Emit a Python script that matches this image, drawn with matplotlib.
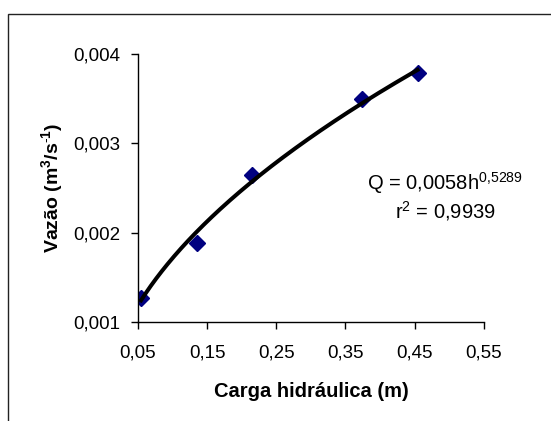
import numpy as np
import matplotlib.pyplot as plt
from matplotlib.patches import Rectangle

plt.rcParams['font.family'] = ['Liberation Sans', 'DejaVu Sans']
plt.rcParams['mathtext.fontset'] = 'custom'
plt.rcParams['mathtext.rm'] = 'Liberation Sans'
plt.rcParams['mathtext.it'] = 'Liberation Sans'
plt.rcParams['mathtext.bf'] = 'Liberation Sans:bold'

# measured points
carga = [0.0543, 0.1348, 0.2143, 0.3733, 0.4542]
vazao = [0.001272, 0.001888, 0.002646, 0.003493, 0.003784]

# power trend line Q = a * h^b (from the chart label)
coef_a = 0.0058
coef_b = 0.5289
r2 = 0.9939

x_ticks = [0.05, 0.15, 0.25, 0.35, 0.45, 0.55]
x_ticklabels = ['0,05', '0,15', '0,25', '0,35', '0,45', '0,55']
y_ticks = [0.001, 0.002, 0.003, 0.004]
y_ticklabels = ['0,001', '0,002', '0,003', '0,004']

fig = plt.figure(figsize=(5.51, 4.21), dpi=100)
ax = fig.add_axes([0.2505, 0.235, 0.6275, 0.637])

# outer chart frame (cut off at right/bottom)
fig.patches.append(Rectangle((8 / 551, -0.05), 1.2, 1 - 14 / 421 + 0.05,
                             transform=fig.transFigure, fill=False,
                             edgecolor='#222222', linewidth=1.0))

h = np.linspace(carga[0], carga[-1], 200)
ax.plot(h, coef_a * h ** coef_b, color='black', linewidth=2.9, zorder=3)
ax.plot(carga, vazao, linestyle='none', marker='D', markersize=8,
        color='#000080', zorder=2)

ax.set_xlim(0.05, 0.55)
ax.set_ylim(0.001, 0.004)
ax.set_xticks(x_ticks)
ax.set_xticklabels(x_ticklabels)
ax.set_yticks(y_ticks)
ax.set_yticklabels(y_ticklabels)
ax.tick_params(direction='out', length=5, width=1, labelsize=13.5)
ax.tick_params(axis='x', pad=11)
ax.tick_params(axis='y', pad=8)
ax.spines['top'].set_visible(False)
ax.spines['right'].set_visible(False)
for s in ['left', 'bottom']:
    ax.spines[s].set_linewidth(1)

ax.set_xlabel('Carga hidráulica (m)', fontsize=14.5, fontweight='bold', labelpad=15)
ax.set_ylabel(r'Vazão (m$^\mathbf{3}$/s$^{\mathbf{\text{-}1}}$)', fontsize=14,
              fontweight='bold', labelpad=6)

ax.text(0.494, 0.002556, r'Q = 0,0058h$^{\mathrm{0{,}5289}}$', fontsize=14.5,
        ha='center', va='center')
ax.text(0.494, 0.002243, r'r$^{\mathrm{2}}$ = 0,9939', fontsize=14.5,
        ha='center', va='center')

fig.savefig('out.png', dpi=100)
